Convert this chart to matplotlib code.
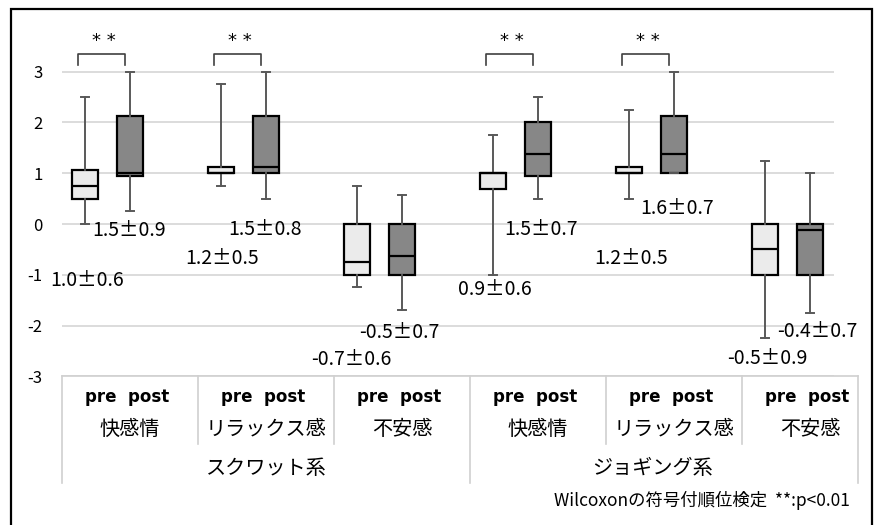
import numpy as np
import matplotlib
matplotlib.use("Agg")
import matplotlib.pyplot as plt
from matplotlib.patches import Rectangle

plt.rcParams['font.family'] = ['Noto Sans CJK JP', 'DejaVu Sans']

# ---------------- data ----------------
categories = ['快感情', 'リラックス感', '不安感', '快感情', 'リラックス感', '不安感']
groups = ['スクワット系', 'ジョギング系']
sub_label = 'pre  post'

pre_min = [0.0, 0.75, -1.25, -1.0, 0.5, -2.25]
pre_q1 = [0.5, 1.0, -1.0, 0.6875, 1.0, -1.0]
pre_med = [0.75, 1.0, -0.75, 1.0, 1.0, -0.5]
pre_q3 = [1.0625, 1.125, 0.0, 1.0, 1.125, 0.0]
pre_max = [2.5, 2.75, 0.75, 1.75, 2.25, 1.25]

post_min = [0.25, 0.5, -1.6875, 0.5, 1.0, -1.75]
post_q1 = [0.9375, 1.0, -1.0, 0.9375, 1.0, -1.0]
post_med = [1.0, 1.125, -0.625, 1.375, 1.375, -0.125]
post_q3 = [2.125, 2.125, 0.0, 2.0, 2.125, 0.0]
post_max = [3.0, 3.0, 0.5625, 2.5, 3.0, 1.0]

pre_mean = [1.0, 1.2, -0.7, 0.9, 1.2, -0.5]
pre_sd = [0.6, 0.5, 0.6, 0.6, 0.5, 0.9]
post_mean = [1.5, 1.5, -0.5, 1.5, 1.6, -0.4]
post_sd = [0.9, 0.8, 0.7, 0.7, 0.7, 0.7]

significant = [True, True, False, True, True, False]
sig_mark = '* *'
note = 'Wilcoxonの符号付順位検定  **:p<0.01'
yticks = [-3, -2, -1, 0, 1, 2, 3]

# ---------------- layout ----------------
pre_lab_dx = [0.015, 0.007, -0.044, 0.015, 0.015, 0.015]
pre_lab_y = [-1.11, -0.67, -2.67, -1.30, -0.67, -2.64]
post_lab_dx = [-0.007, -0.007, -0.022, 0.022, 0.026, 0.051]
post_lab_y = [-0.126, -0.112, -2.147, -0.112, 0.315, -2.127]

W, H = 876, 525
fig = plt.figure(figsize=(W / 100, H / 100), dpi=100)
fig.patch.set_facecolor('white')

px_left, px_right = 62, 834
px_ybot, px_y3 = 376.3, 71.7
unit = (px_ybot - px_y3) / 6.0
px_top = 20
ax = fig.add_axes([px_left / W, 1 - px_ybot / H, (px_right - px_left) / W, (px_ybot - px_top) / H])
cat_w = 136.0
ax.set_xlim(0, (px_right - px_left) / cat_w)
ax.set_ylim(-3, 3 + (px_y3 - px_top) / unit)
for s in ax.spines.values():
    s.set_visible(False)
ax.set_xticks([])
ax.set_yticks(yticks)
ax.set_yticklabels([str(t) for t in yticks], fontsize=12)
ax.tick_params(axis='y', length=0, pad=14)
ax.yaxis.grid(True, color='#d9d9d9', lw=1.3)
ax.set_axisbelow(True)

idx = np.arange(len(categories))
post_pos = idx + 0.5
pre_pos = idx + 0.5 - 0.331
box_w = 0.1875

def stats(mn, q1, md, q3, mx):
    return [dict(whislo=a, q1=b, med=c, q3=d, whishi=e, fliers=[])
            for a, b, c, d, e in zip(mn, q1, md, q3, mx)]

common = dict(widths=box_w, showfliers=False, patch_artist=True,
              capwidths=0.065,
              whiskerprops=dict(color='#595959', lw=1.4),
              capprops=dict(color='#595959', lw=1.4),
              medianprops=dict(color='black', lw=1.6))
ax.bxp(stats(pre_min, pre_q1, pre_med, pre_q3, pre_max), positions=pre_pos,
       boxprops=dict(facecolor='#ebebeb', edgecolor='black', lw=1.6), manage_ticks=False, **common)
ax.bxp(stats(post_min, post_q1, post_med, post_q3, post_max), positions=post_pos,
       boxprops=dict(facecolor='#878787', edgecolor='black', lw=1.6), manage_ticks=False, **common)

# mean ± sd labels
for i in idx:
    ax.text(pre_pos[i] + pre_lab_dx[i], pre_lab_y[i], f'{pre_mean[i]:.1f}±{pre_sd[i]:.1f}',
            ha='center', va='center', fontsize=14, clip_on=False)
    ax.text(post_pos[i] + post_lab_dx[i], post_lab_y[i], f'{post_mean[i]:.1f}±{post_sd[i]:.1f}',
            ha='center', va='center', fontsize=14, clip_on=False)

# significance brackets
for i in idx:
    if not significant[i]:
        continue
    xl = pre_pos[i] - 0.055
    xr = post_pos[i] - 0.04
    ax.plot([xl, xl, xr, xr], [3.13, 3.34, 3.34, 3.13], color='#404040', lw=1.2, clip_on=False)
    ax.text((xl + xr) / 2 + 0.02, 3.60, sig_mark, ha='center', va='center', fontsize=13,
            family=['DejaVu Sans'])

# category table
x_end = 5.853
tbl_color = '#d0d0d0'
y_div = -3 - (444 - px_ybot) / unit
y_full = -3 - (482.7 - px_ybot) / unit
ax.plot([0, x_end], [-3, -3], color=tbl_color, lw=1.2, clip_on=False)
for k in range(len(categories) + 1):
    xk = min(k, x_end)
    yb = y_full if k in (0, 3, 6) else y_div
    ax.plot([xk, xk], [-3, yb], color=tbl_color, lw=1.2, clip_on=False)

for i in idx:
    ax.text(i + 0.48, -3.40, sub_label, ha='center', va='center', fontsize=12,
            fontweight='bold', family=['DejaVu Sans'], clip_on=False)
    ax.text(i + 0.5, -4.04, categories[i], ha='center', va='center', fontsize=14.5, clip_on=False)

group_x = [1.5, 4.34]
for g, gx in zip(groups, group_x):
    ax.text(gx, -4.81, g, ha='center', va='center', fontsize=14.5, clip_on=False)

fig.text(850 / W, 1 - 500 / H, note, ha='right', va='center', fontsize=12.5)

# outer frame (open at bottom)
fig.add_artist(Rectangle((10.7 / W, -0.1), (872.3 - 10.7) / W, 1 - 9 / H + 0.1,
                         transform=fig.transFigure, fill=False, ec='black', lw=1.6))

fig.savefig('out.png', dpi=100)
